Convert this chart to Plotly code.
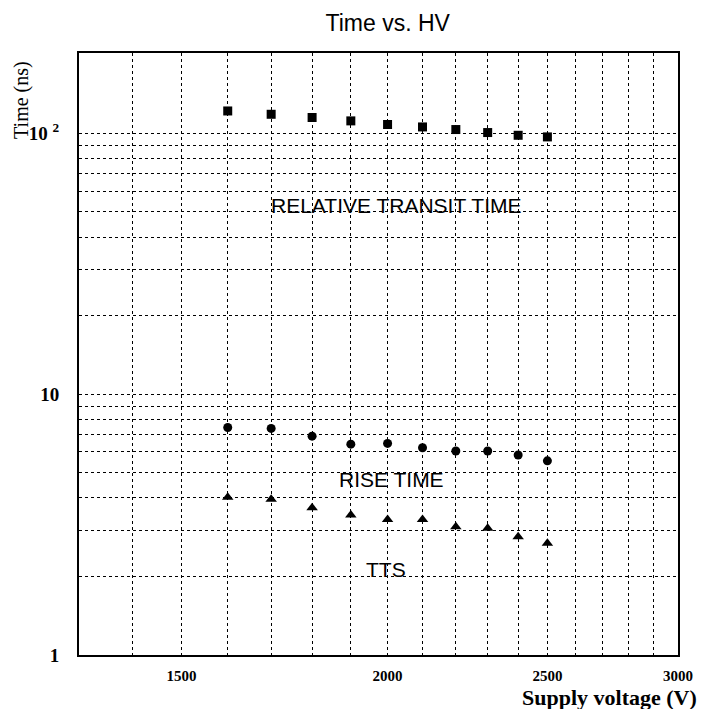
import numpy as np
import plotly.graph_objects as go

# ---- data ----
voltage = [1600, 1700, 1800, 1900, 2000, 2100, 2200, 2300, 2400, 2500]
transit_time = [121.7, 118.2, 114.9, 111.5, 108.0, 105.7, 103.3, 100.6, 98.2, 96.8]
rise_time = [7.45, 7.39, 6.90, 6.43, 6.47, 6.23, 6.05, 6.05, 5.84, 5.55]
tts = [4.02, 3.95, 3.67, 3.44, 3.31, 3.31, 3.10, 3.06, 2.84, 2.68]

x_grid = list(range(1400, 3001, 100))
x_labels = {1500: "1500", 2000: "2000", 2500: "2500", 3000: "3000"}
y_grid = [1, 2, 3, 4, 5, 6, 7, 8, 9, 10, 20, 30, 40, 50, 60, 70, 80, 90, 100]
y_labels = {1: "1", 10: "10", 100: "10 <sup>2</sup>"}

series_labels = [
    ("RELATIVE TRANSIT TIME", 2025, 53),
    ("RISE TIME", 2010, 4.72),
    ("TTS", 1995, 2.12),
]

x_range = [1300, 3000]
y_range = [1, 203]

fig = go.Figure()
fig.add_trace(go.Scatter(x=voltage, y=transit_time, mode="markers",
                         marker=dict(symbol="square", size=9, color="black"),
                         name="Relative transit time"))
fig.add_trace(go.Scatter(x=voltage, y=rise_time, mode="markers",
                         marker=dict(symbol="circle", size=9, color="black"),
                         name="Rise time"))
fig.add_trace(go.Scatter(x=voltage, y=tts, mode="markers",
                         marker=dict(symbol="triangle-up", size=10, color="black"),
                         name="TTS"))

serif = "Liberation Serif, Times New Roman, serif"
sans = "Liberation Sans, Arial, sans-serif"

for text, xv, yv in series_labels:
    fig.add_annotation(x=np.log10(xv), y=np.log10(yv), xref="x", yref="y",
                       text=text, showarrow=False,
                       font=dict(family=sans, size=21, color="black"))

fig.add_annotation(x=1.035, y=-0.07, xref="paper", yref="paper",
                   xanchor="right", yanchor="middle",
                   text="<b>Supply voltage (V)</b>", showarrow=False,
                   font=dict(family=serif, size=22, color="black"))
fig.add_annotation(x=-0.0952, y=0.922, xref="paper", yref="paper",
                   xanchor="center", yanchor="middle", textangle=-90,
                   text="Time (ns)", showarrow=False,
                   font=dict(family=serif, size=20, color="black"))

fig.update_layout(
    width=705, height=709,
    margin=dict(l=79, r=17, t=53, b=54),
    paper_bgcolor="white", plot_bgcolor="white",
    showlegend=False,
    title=dict(text="Time vs. HV", x=0.55, xanchor="center",
               y=1 - 23 / 709, yanchor="middle", yref="container",
               font=dict(family=sans, size=23, color="black")),
)

fig.update_xaxes(
    type="log", range=[np.log10(x_range[0]), np.log10(x_range[1])],
    tickvals=x_grid, ticktext=[x_labels.get(v, "") for v in x_grid],
    tickfont=dict(family=serif, size=15, color="black", weight="bold"),
    ticks="", ticklabelstandoff=6,
    showgrid=True, gridcolor="black", gridwidth=1, griddash="dot",
    showline=True, linecolor="black", linewidth=2, mirror=True,
    zeroline=False,
)
fig.update_yaxes(
    type="log", range=[np.log10(y_range[0]), np.log10(y_range[1])],
    tickvals=y_grid, ticktext=[y_labels.get(v, "") for v in y_grid],
    tickfont=dict(family=serif, size=19, color="black", weight="bold"),
    ticks="", ticklabelstandoff=14,
    showgrid=True, gridcolor="black", gridwidth=1, griddash="dot",
    showline=True, linecolor="black", linewidth=2, mirror=True,
    zeroline=False,
)

fig.write_html("out.html")
